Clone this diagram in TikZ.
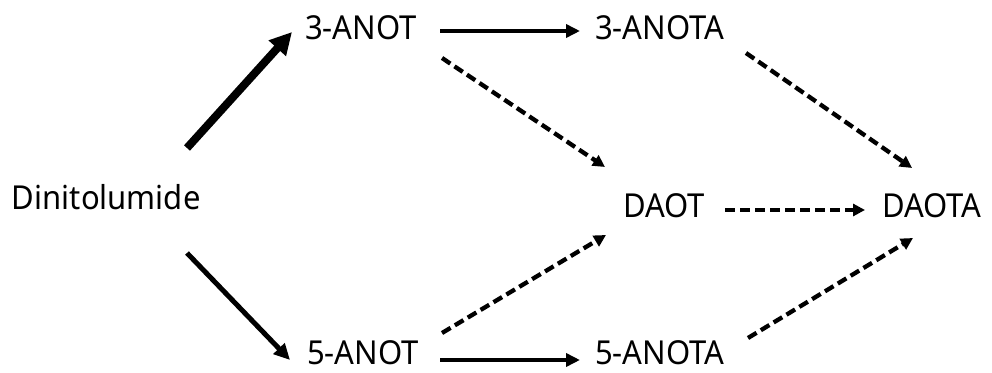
\documentclass[tikz,border=0pt]{standalone}
\usepackage{fontspec}
\setmainfont[FakeStretch=0.94]{Noto Sans}
\usetikzlibrary{arrows.meta,calc}
\begin{document}
\begin{tikzpicture}[x=1pt,y=1pt,
  lbl/.style={inner sep=0pt,outer sep=0pt,anchor=base west,font=\fontsize{33}{40}\selectfont},
  solidarrow/.style={line width=4.5pt,-{Triangle[length=14pt,width=13pt]}},
  thickarrow/.style={line width=8pt,-{Triangle[length=22pt,width=22pt]}},
  medarrow/.style={line width=5pt,-{Triangle[length=16pt,width=15pt]}},
  dasharrow/.style={line width=4.3pt,dash pattern=on 10pt off 5pt,-{Triangle[length=12pt,width=12pt]}}]
\useasboundingbox (0,0) rectangle (992,372);
\node[lbl] (din) at (12,162) {Dinitolumide};
\node[lbl] (a3) at (305,332) {3-ANOT};
\node[lbl] (a3a) at (595,332) {3-ANOTA};
\node[lbl] (daot) at (623,154) {DAOT};
\node[lbl] (daota) at (882,154) {DAOTA};
\node[lbl] (a5) at (307,8) {5-ANOT};
\node[lbl] (a5a) at (595,8) {5-ANOTA};
\draw[thickarrow] ($(din.base west)+(175,62)$) -- ($(a3.base west)+(-13,8)$);
\draw[medarrow] ($(din.base west)+(175,-43)$) -- ($(a5.base west)+(-17,4)$);
\draw[solidarrow] ($(a3.base west)+(135,9)$) -- ($(a3a.base west)+(-15,9)$);
\draw[solidarrow] ($(a5.base west)+(133,4)$) -- ($(a5a.base west)+(-15,4)$);
\draw[dasharrow] ($(a3.base west)+(137,-18)$) -- ($(daot.base west)+(-18,51)$);
\draw[dasharrow] ($(a3a.base west)+(151,-13)$) -- ($(daota.base west)+(30,50)$);
\draw[dasharrow] ($(a5.base west)+(135,31)$) -- ($(daot.base west)+(-17,-17)$);
\draw[dasharrow] ($(a5a.base west)+(153,26)$) -- ($(daota.base west)+(31,-20)$);
\draw[dasharrow] ($(daot.base west)+(102,8)$) -- ($(daota.base west)+(-17,8)$);
\end{tikzpicture}
\end{document}
